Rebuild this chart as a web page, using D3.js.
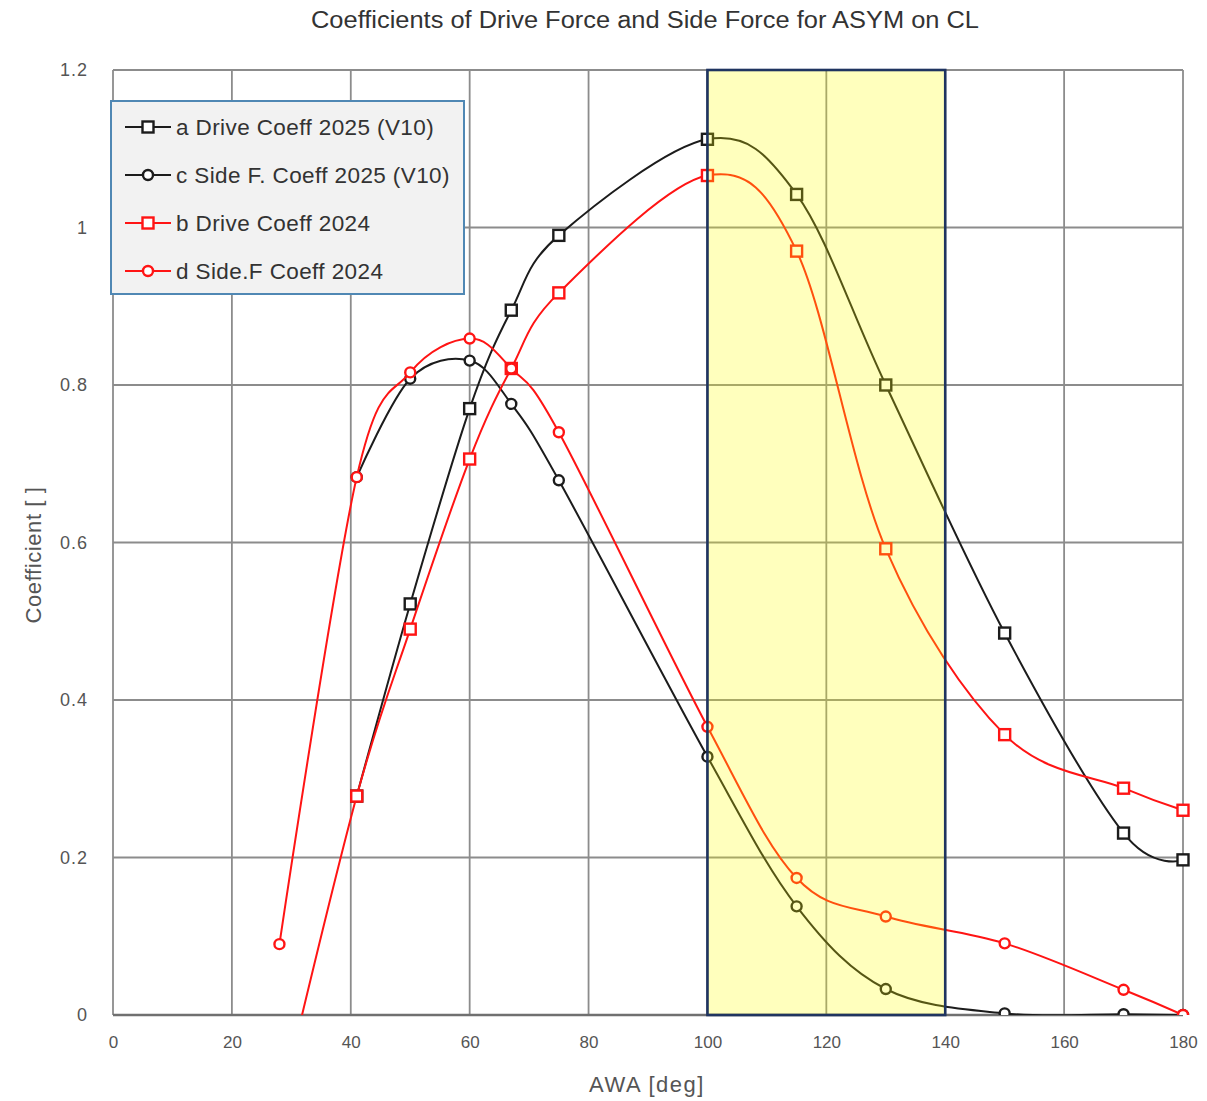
<!DOCTYPE html>
<html>
<head>
<meta charset="utf-8">
<script src="https://cdn.jsdelivr.net/npm/d3@7"></script>
<style>
  body { margin: 0; background: #fff; }
  svg { font-family: "Liberation Sans", Arial, sans-serif; }
</style>
</head>
<body>
<div id="chart"></div>
<script>
// AWA angles
const awa2025 = [41, 50, 60, 67, 75, 100, 115, 130, 150, 170, 180];
const awa2024 = [28, 41, 50, 60, 67, 75, 100, 115, 130, 150, 170, 180];

// coefficients
const driveA = [0.278, 0.522, 0.770, 0.895, 0.990, 1.112, 1.042, 0.800, 0.485, 0.231, 0.197];
const sideC  = [0.683, 0.808, 0.831, 0.776, 0.679, 0.328, 0.138, 0.033, 0.002, 0.001, 0.0];
const driveB = [-0.12, 0.278, 0.490, 0.706, 0.821, 0.917, 1.066, 0.970, 0.592, 0.356, 0.288, 0.260];
const sideD  = [0.090, 0.683, 0.816, 0.859, 0.821, 0.740, 0.366, 0.174, 0.125, 0.091, 0.032, 0.0];

const seriesNames = ["a Drive Coeff 2025 (V10)", "c Side F. Coeff 2025 (V10)", "b Drive Coeff 2024", "d Side.F Coeff 2024"];
const xTicks = [0, 20, 40, 60, 80, 100, 120, 140, 160, 180];
const yTicks = [0, 0.2, 0.4, 0.6, 0.8, 1, 1.2];
const band = [100, 140];

const chartW = 1207, chartH = 1101;
const plotL = 113, plotR = 1183, plotT = 70, plotB = 1015;

const series = [
    { name: seriesNames[0], xs: awa2025, ys: driveA, color: "#1c1c1c", shape: "square" },
    { name: seriesNames[1], xs: awa2025, ys: sideC,  color: "#1c1c1c", shape: "circle" },
    { name: seriesNames[2], xs: awa2024, ys: driveB, color: "#ff1414", shape: "square" },
    { name: seriesNames[3], xs: awa2024, ys: sideD,  color: "#ff1414", shape: "circle" }
];

const x = d3.scaleLinear().domain([0, 180]).range([plotL, plotR]);
const y = d3.scaleLinear().domain([0, 1.2]).range([plotB, plotT]);

const svg = d3.select("#chart")
    .append("svg")
    .attr("width", chartW)
    .attr("height", chartH);

svg.append("defs").append("clipPath")
    .attr("id", "plot-clip")
    .append("rect")
    .attr("x", plotL - 8)
    .attr("y", plotT - 8)
    .attr("width", plotR - plotL + 16)
    .attr("height", plotB - plotT + 8);

// Title
svg.append("text")
    .attr("x", 645)
    .attr("y", 28)
    .attr("text-anchor", "middle")
    .attr("textLength", 668)
    .attr("lengthAdjust", "spacingAndGlyphs")
    .style("fill", "#333")
    .style("font-size", "23px")
    .text("Coefficients of Drive Force and Side Force for ASYM on CL");

// Grid
const grid = svg.append("g");
grid.selectAll(".vgrid")
    .data(xTicks)
    .enter().append("line")
    .attr("x1", d => x(d)).attr("x2", d => x(d))
    .attr("y1", plotT).attr("y2", plotB)
    .attr("stroke", "#8c8c8c")
    .attr("stroke-width", 1.8);

grid.selectAll(".hgrid")
    .data(yTicks)
    .enter().append("line")
    .attr("x1", plotL).attr("x2", plotR)
    .attr("y1", d => y(d)).attr("y2", d => y(d))
    .attr("stroke", d => d === 0 ? "#707070" : "#8c8c8c")
    .attr("stroke-width", d => d === 0 ? 2.6 : 1.8);

// Axes (labels only, lines come from the grid)
const xAxis = svg.append("g")
    .attr("transform", `translate(0, ${plotB + 18})`)
    .call(d3.axisBottom(x).tickValues(xTicks).tickSize(0).tickFormat(d3.format("d")));
xAxis.select(".domain").remove();
xAxis.selectAll("text")
    .style("font-size", "17px")
    .style("fill", "#555")
    .style("font-family", "Liberation Sans, Arial, sans-serif");

const yAxis = svg.append("g")
    .attr("transform", `translate(${plotL - 22}, 0)`)
    .call(d3.axisLeft(y).tickValues(yTicks).tickSize(0).tickFormat(d => d === 0 || d === 1 ? d3.format("d")(d) : d3.format(".1f")(d)));
yAxis.select(".domain").remove();
yAxis.selectAll("text")
    .style("font-size", "18px")
    .style("letter-spacing", "1px")
    .style("fill", "#555")
    .style("font-family", "Liberation Sans, Arial, sans-serif");

// Axis titles
svg.append("text")
    .attr("x", 647)
    .attr("y", 1092)
    .attr("text-anchor", "middle")
    .style("fill", "#555")
    .style("font-size", "22px")
    .style("letter-spacing", "1.5px")
    .text("AWA [deg]");

svg.append("text")
    .attr("transform", "translate(41, 555) rotate(-90)")
    .attr("text-anchor", "middle")
    .style("fill", "#555")
    .style("font-size", "22px")
    .style("letter-spacing", "0.6px")
    .text("Coefficient [ ]");

// Series
const line = d3.line()
    .x(d => x(d[0]))
    .y(d => y(d[1]))
    .curve(d3.curveCardinal.tension(0));

const plot = svg.append("g").attr("clip-path", "url(#plot-clip)");

function drawMarker(sel, shape, color) {
    if (shape === "square") {
        sel.append("rect")
            .attr("x", -5.5).attr("y", -5.5)
            .attr("width", 11).attr("height", 11)
            .attr("fill", "#fff")
            .attr("stroke", color)
            .attr("stroke-width", 2.4);
    } else {
        sel.append("circle")
            .attr("r", 5)
            .attr("fill", "#fff")
            .attr("stroke", color)
            .attr("stroke-width", 2.4);
    }
}

series.forEach(s => {
    const pts = s.xs.map((v, i) => [v, s.ys[i]]);
    plot.append("path")
        .datum(pts)
        .attr("d", line)
        .attr("fill", "none")
        .attr("stroke", s.color)
        .attr("stroke-width", 2);

    plot.selectAll(null)
        .data(pts.filter(p => p[1] >= 0))
        .enter().append("g")
        .attr("transform", d => `translate(${x(d[0])}, ${y(d[1])})`)
        .each(function () { drawMarker(d3.select(this), s.shape, s.color); });
});

// Highlight band on top
svg.append("rect")
    .attr("x", x(band[0]))
    .attr("y", plotT)
    .attr("width", x(band[1]) - x(band[0]))
    .attr("height", plotB - plotT)
    .attr("fill", "#ffff00")
    .attr("fill-opacity", 0.26)
    .attr("stroke", "#1f3460")
    .attr("stroke-width", 2.6);

// Legend
const legend = svg.append("g");
legend.append("rect")
    .attr("x", 111)
    .attr("y", 101)
    .attr("width", 353)
    .attr("height", 193)
    .attr("fill", "#f2f2f2")
    .attr("stroke", "#5088b4")
    .attr("stroke-width", 2);

const items = legend.selectAll(".item")
    .data(series)
    .enter().append("g")
    .attr("transform", (d, i) => `translate(0, ${127 + i * 48})`);

items.append("line")
    .attr("x1", 125).attr("x2", 171)
    .attr("y1", 0).attr("y2", 0)
    .attr("stroke", d => d.color)
    .attr("stroke-width", 2);

items.append("g")
    .attr("transform", "translate(148, 0)")
    .each(function (d) { drawMarker(d3.select(this), d.shape, d.color); });

items.append("text")
    .attr("x", 176)
    .attr("y", 8)
    .style("fill", "#333")
    .style("font-size", "22.5px")
    .style("letter-spacing", "0.4px")
    .text(d => d.name);
</script>
</body>
</html>
